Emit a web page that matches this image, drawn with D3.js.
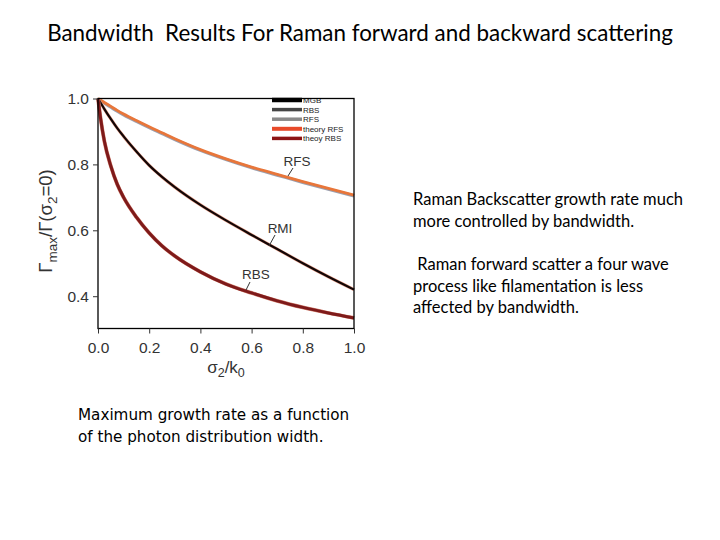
<!DOCTYPE html>
<html>
<head>
<meta charset="utf-8">
<script src="https://cdn.jsdelivr.net/npm/d3@7"></script>
<style>
  body { margin: 0; background: #fff; }
  svg { display: block; }
</style>
</head>
<body>
<svg id="chart" width="720" height="540"></svg>
<script>
// sigma2/k0 sample points
var sigma = [0, 0.01, 0.025, 0.05, 0.075, 0.1, 0.15, 0.2, 0.25, 0.3, 0.4, 0.5, 0.6, 0.7, 0.8, 0.9, 1.0];
// growth rate ratios
var rfs = [1.0, 0.995, 0.988, 0.976, 0.964, 0.953, 0.933, 0.914, 0.896, 0.878, 0.845, 0.817, 0.792, 0.77, 0.748, 0.727, 0.707];
var rmi = [1.0, 0.987, 0.968, 0.938, 0.91, 0.885, 0.839, 0.797, 0.762, 0.731, 0.677, 0.63, 0.586, 0.543, 0.5, 0.459, 0.42];
var rbs = [1.0, 0.94, 0.87, 0.795, 0.74, 0.70, 0.64, 0.592, 0.553, 0.522, 0.474, 0.437, 0.41, 0.386, 0.366, 0.349, 0.334];

var xTicks = [0, 0.2, 0.4, 0.6, 0.8, 1.0];
var yTicks = [0.4, 0.6, 0.8, 1.0];

var legendNames = ["MGB", "RBS", "RFS", "theory RFS", "theoy RBS"];
var legendColors = ["#000000", "#454545", "#8a8a8a", "#e84a2a", "#8c1414"];
var legendWidths = [4.5, 3.5, 3.5, 4, 3.5];

var svg = d3.select("#chart");

var plotL = 98, plotR = 354, plotT = 98.5, plotB = 328.5;

var x = d3.scaleLinear().domain([0, 1]).range([plotL, plotR]);
var y = d3.scaleLinear().domain([0.302, 1.0]).range([plotB, plotT]);

// title
svg.append("text")
    .attr("x", 360).attr("y", 41)
    .attr("text-anchor", "middle")
    .style("font-family", "Lato, 'Open Sans', sans-serif")
    .style("font-size", "22.4px")
    .attr("fill", "#000")
    .attr("xml:space", "preserve")
    .text("Bandwidth  Results For Raman forward and backward scattering");

// curves: simulation line underneath, theory on top
var line = d3.line()
    .x(function(d) { return x(d[0]); })
    .y(function(d) { return y(d[1]); })
    .curve(d3.curveMonotoneX);

function pts(vals) { return sigma.map(function(s, i) { return [s, vals[i]]; }); }

svg.append("path").datum(pts(rfs)).attr("d", line)
    .attr("fill", "none").attr("stroke", "#9aa0b0").attr("stroke-width", 3.2)
    .attr("transform", "translate(0,0.8)");
svg.append("path").datum(pts(rfs)).attr("d", line)
    .attr("fill", "none").attr("stroke", "#e8763a").attr("stroke-width", 2.8);

svg.append("path").datum(pts(rmi)).attr("d", line)
    .attr("fill", "none").attr("stroke", "#e9a08a").attr("stroke-width", 3.2);
svg.append("path").datum(pts(rmi)).attr("d", line)
    .attr("fill", "none").attr("stroke", "#120606").attr("stroke-width", 2.2);

svg.append("path").datum(pts(rbs)).attr("d", line)
    .attr("fill", "none").attr("stroke", "#d08070").attr("stroke-width", 3.8);
svg.append("path").datum(pts(rbs)).attr("d", line)
    .attr("fill", "none").attr("stroke", "#7e1a1a").attr("stroke-width", 3);

// legend
var leg = svg.append("g");
legendNames.forEach(function(name, i) {
    var ly = 100 + i * 9.6;
    leg.append("line")
        .attr("x1", 272).attr("x2", 302).attr("y1", ly).attr("y2", ly)
        .attr("stroke", legendColors[i]).attr("stroke-width", legendWidths[i]);
    leg.append("text")
        .attr("x", 303).attr("y", ly + 3)
        .style("font-family", "'Liberation Sans', Arial, sans-serif")
        .style("font-size", "8px")
        .attr("fill", "#222")
        .text(name);
});

// frame drawn over the legend top entry
svg.append("rect")
    .attr("x", plotL).attr("y", plotT)
    .attr("width", plotR - plotL).attr("height", plotB - plotT)
    .attr("fill", "none").attr("stroke", "#000").attr("stroke-width", 1.3);

// axes
var xAxis = d3.axisBottom(x).tickValues(xTicks).tickFormat(d3.format(".1f")).tickSize(5).tickSizeOuter(0);
var yAxis = d3.axisLeft(y).tickValues(yTicks).tickFormat(d3.format(".1f")).tickSize(5).tickSizeOuter(0);

var gx = svg.append("g").attr("transform", "translate(0," + plotB + ")").call(xAxis);
var gy = svg.append("g").attr("transform", "translate(" + plotL + ",0)").call(yAxis);
[gx, gy].forEach(function(g) {
    g.select(".domain").remove();
    g.selectAll("line").attr("stroke", "#333");
    g.selectAll("text")
        .attr("font-family", "'Liberation Sans', Arial, sans-serif")
        .attr("font-size", 15.5)
        .attr("fill", "#333");
});
gx.selectAll("text").attr("y", 10).attr("dy", "0.95em");
gy.selectAll("text").attr("x", -9);

// axis titles
var xt = svg.append("text")
    .attr("x", 226).attr("y", 373)
    .attr("text-anchor", "middle")
    .style("font-family", "'Liberation Sans', Arial, sans-serif")
    .style("font-size", "17px")
    .attr("fill", "#333");
xt.append("tspan").text("σ");
xt.append("tspan").attr("dy", 4).style("font-size", "12.5px").text("2");
xt.append("tspan").attr("dy", -4).text("/k");
xt.append("tspan").attr("dy", 4).style("font-size", "12.5px").text("0");

var yt = svg.append("text")
    .attr("transform", "translate(52,221) rotate(-90)")
    .attr("text-anchor", "middle")
    .style("font-family", "'Liberation Sans', Arial, sans-serif")
    .style("font-size", "18.5px")
    .attr("fill", "#333");
yt.append("tspan").text("Γ");
yt.append("tspan").attr("dy", 4.5).style("font-size", "13.5px").text("max");
yt.append("tspan").attr("dy", -4.5).text("/Γ(σ");
yt.append("tspan").attr("dy", 4.5).style("font-size", "13.5px").text("2");
yt.append("tspan").attr("dy", -4.5).text("=0)");

// curve labels with leader lines
var labelText = ["RFS", "RMI", "RBS"];
var lx = [297, 280, 256], lyPos = [166, 233, 279];
var leaders = [[288, 176, 293, 168], [269, 246, 275, 235], [246, 290, 250, 282]];
labelText.forEach(function(t, i) {
    svg.append("text")
        .attr("x", lx[i]).attr("y", lyPos[i])
        .attr("text-anchor", "middle")
        .style("font-family", "'Liberation Sans Narrow', 'Liberation Sans', Arial, sans-serif")
        .style("font-size", "13.5px")
        .attr("fill", "#333")
        .text(t);
    svg.append("line")
        .attr("x1", leaders[i][0]).attr("y1", leaders[i][1])
        .attr("x2", leaders[i][2]).attr("y2", leaders[i][3])
        .attr("stroke", "#333").attr("stroke-width", 1);
});

// side notes
var notes = [
    "Raman Backscatter growth rate much",
    "more controlled by bandwidth.",
    "",
    " Raman forward scatter a four wave",
    "process like filamentation is less",
    "affected by bandwidth."
];
var noteY = [205, 226.5, 248, 270, 291.5, 313];
notes.forEach(function(n, i) {
    svg.append("text")
        .attr("x", 413).attr("y", noteY[i])
        .attr("xml:space", "preserve")
        .style("font-family", "Lato, 'Open Sans', sans-serif")
        .style("font-size", "16.5px")
        .attr("fill", "#000")
        .text(n);
});

var caption = ["Maximum growth rate as a function", "of the photon distribution width."];
caption.forEach(function(c, i) {
    svg.append("text")
        .attr("x", 78).attr("y", 420 + i * 21.5)
        .style("font-family", "'DejaVu Sans', Verdana, sans-serif")
        .style("font-size", "15.2px")
        .attr("fill", "#000")
        .text(c);
});
</script>
</body>
</html>
